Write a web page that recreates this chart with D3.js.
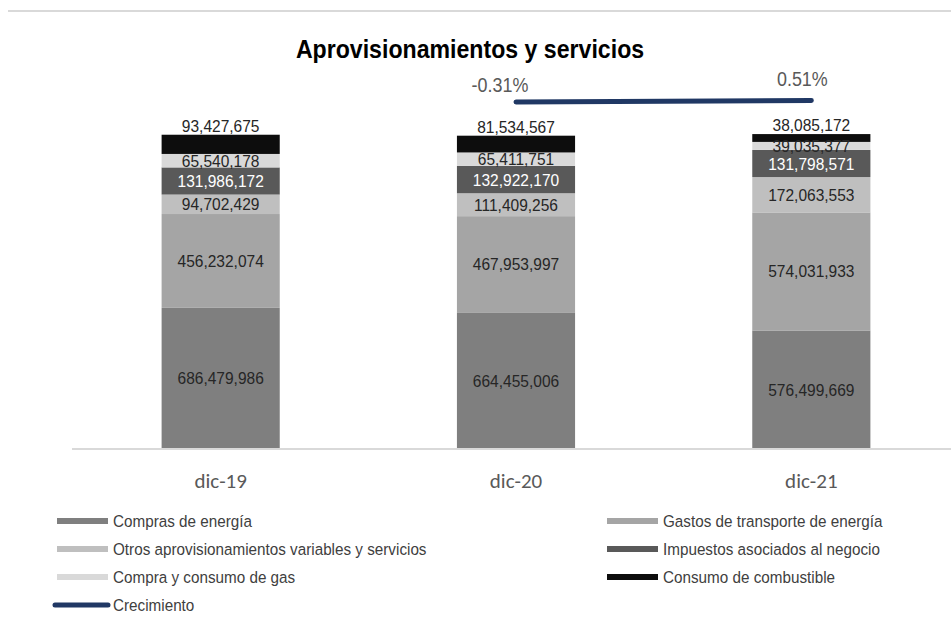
<!DOCTYPE html>
<html><head><meta charset="utf-8">
<script src="https://cdn.jsdelivr.net/npm/d3@7/dist/d3.min.js"></script>
<style>
html,body{margin:0;padding:0;background:#fff;}
svg{display:block;}
</style></head>
<body>
<svg id="chart" width="951" height="631"></svg>
<script>
const categories = ["dic-19", "dic-20", "dic-21"];
const seriesNames = ["Compras de energía", "Gastos de transporte de energía", "Otros aprovisionamientos variables y servicios", "Impuestos asociados al negocio", "Compra y consumo de gas", "Consumo de combustible"];
const comprasEnergia = [686479986, 664455006, 576499669];
const gastosTransporte = [456232074, 467953997, 574031933];
const otrosAprov = [94702429, 111409256, 172063553];
const impuestos = [131986172, 132922170, 131798571];
const compraGas = [65540178, 65411751, 39035377];
const consumoCombustible = [93427675, 81534567, 38085172];
const crecimiento = [null, -0.31, 0.51];
const crecimientoLabels = ["", "-0.31%", "0.51%"];

const colors = ["#7f7f7f", "#a5a5a5", "#bfbfbf", "#595959", "#d9d9d9", "#0d0d0d"];
const labelColors = ["#262626", "#262626", "#262626", "#ffffff", "#262626", "#262626"];
const lineColor = "#203864";
const SANS = "'Liberation Sans', Arial, sans-serif";

const svg = d3.select("#chart");
const series = [comprasEnergia, gastosTransporte, otrosAprov, impuestos, compraGas, consumoCombustible];

const rows = categories.map((c, i) => {
  const r = {cat: c};
  seriesNames.forEach((n, k) => r[n] = series[k][i]);
  return r;
});
const stacked = d3.stack().keys(seriesNames)(rows);

const x = d3.scaleBand().domain(categories).range([73, 959]).paddingInner(0.6).paddingOuter(0.3);
const y = d3.scaleLinear().domain([0, 1.6e9]).range([449, 120]);
const y2 = d3.scaleLinear().domain([-10, 10]).range([119.7, 83.1]);

// text helper: horizontally condensed text
function ctext(sel, tx, ty, sx, str, opts) {
  const t = sel.append("text")
    .attr("transform", `translate(${tx},${ty}) scale(${sx},1)`)
    .attr("font-family", opts.family || SANS)
    .attr("font-size", opts.size)
    .attr("fill", opts.fill)
    .attr("text-anchor", opts.anchor || "middle")
    .text(str);
  if (opts.weight) t.attr("font-weight", opts.weight);
  if (opts.dy) t.attr("dy", opts.dy);
  return t;
}

// top rule
svg.append("line").attr("x1", 8).attr("x2", 951).attr("y1", 11).attr("y2", 11)
  .attr("stroke", "#d9d9d9").attr("stroke-width", 2);

// title
ctext(svg, 470, 58, 0.873, "Aprovisionamientos y servicios", {size: 26.5, fill: "#000", weight: "bold"});

// bars
const g = svg.append("g");
stacked.forEach((s, k) => {
  g.selectAll(null).data(s).enter().append("rect")
    .attr("x", d => x(d.data.cat))
    .attr("width", x.bandwidth())
    .attr("y", d => y(d[1]))
    .attr("height", d => y(d[0]) - y(d[1]))
    .attr("fill", colors[k]);
});

// axis
const axis = d3.axisBottom(x).tickSize(0).tickPadding(0);
const ax = svg.append("g").attr("transform", "translate(0,449)").call(axis);
ax.select(".domain").remove();
svg.append("line").attr("x1", 72).attr("x2", 951).attr("y1", 449).attr("y2", 449)
  .attr("stroke", "#d9d9d9").attr("stroke-width", 2);
ax.selectAll("text").attr("font-family", "Carlito, Lato, 'Open Sans', sans-serif")
  .attr("font-size", 21).attr("font-weight", 300).attr("fill", "#595959").attr("y", 39).attr("dy", 0);

// data labels
const fmt = d3.format(",");
stacked.forEach((s, k) => {
  const top = k === seriesNames.length - 1;
  s.forEach(d => {
    const cx = x(d.data.cat) + x.bandwidth() / 2;
    const cy = top ? y(d[1]) - 9 : (y(d[0]) + y(d[1])) / 2;
    ctext(g, cx, cy, 0.93, fmt(d.data[s.key]), {size: 16.7, fill: top ? "#262626" : labelColors[k], dy: "0.36em"});
  });
});

// growth line
const pts = categories.map((c, i) => ({cat: c, v: crecimiento[i], lab: crecimientoLabels[i]})).filter(d => d.v !== null);
const line = d3.line().x(d => x(d.cat) + x.bandwidth() / 2).y(d => y2(d.v));
svg.append("path").datum(pts).attr("d", line).attr("fill", "none")
  .attr("stroke", lineColor).attr("stroke-width", 5).attr("stroke-linecap", "round");
const labOffsets = [[-16, -10], [-9, -14.5]];
pts.forEach((d, i) => {
  ctext(svg, x(d.cat) + x.bandwidth() / 2 + labOffsets[i][0], y2(d.v) + labOffsets[i][1], 0.92, d.lab, {size: 19.5, fill: "#595959"});
});

// legend
const legendItems = [
  {name: seriesNames[0], k: 0, col: 0, row: 0},
  {name: seriesNames[1], k: 1, col: 1, row: 0},
  {name: seriesNames[2], k: 2, col: 0, row: 1},
  {name: seriesNames[3], k: 3, col: 1, row: 1},
  {name: seriesNames[4], k: 4, col: 0, row: 2},
  {name: seriesNames[5], k: 5, col: 1, row: 2},
  {name: "Crecimiento", k: -1, col: 0, row: 3}
];
const colX = [57, 607];
const leg = svg.append("g");
legendItems.forEach(it => {
  const lx = colX[it.col];
  const ly = 521 + it.row * 28;
  if (it.k >= 0) {
    leg.append("rect").attr("x", lx).attr("y", ly - 3).attr("width", 51).attr("height", 6).attr("fill", colors[it.k]);
  } else {
    leg.append("line").attr("x1", lx - 2).attr("x2", lx + 51).attr("y1", ly).attr("y2", ly)
      .attr("stroke", lineColor).attr("stroke-width", 5).attr("stroke-linecap", "round");
  }
  ctext(leg, lx + 56, ly, 0.925, it.name, {size: 16.5, fill: "#404040", anchor: "start", dy: "0.36em"});
});
</script>
</body></html>
